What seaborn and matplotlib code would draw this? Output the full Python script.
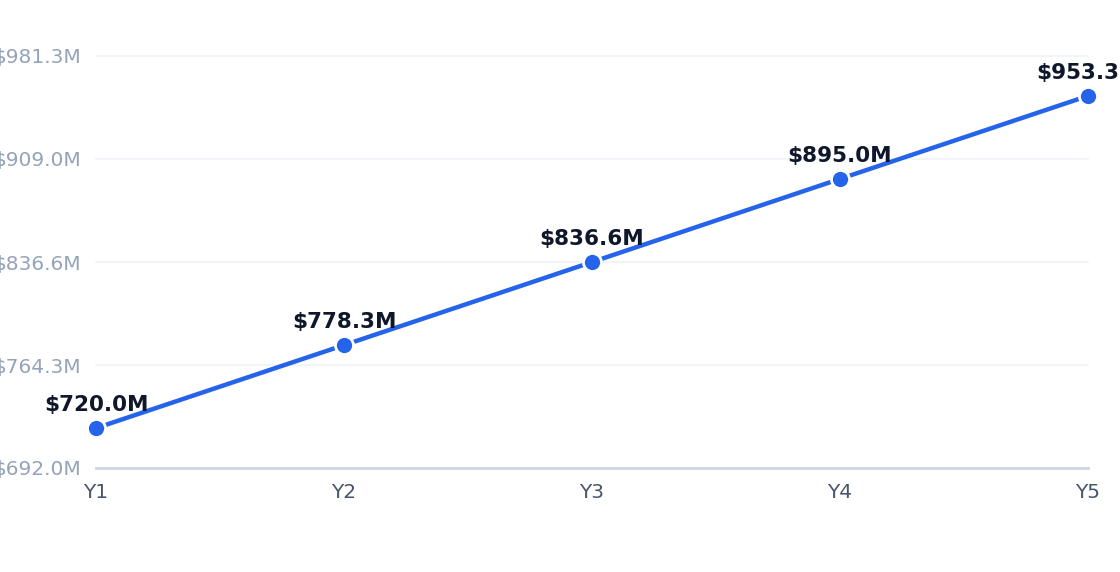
import matplotlib
matplotlib.use("Agg")
import matplotlib.pyplot as plt
import seaborn as sns
import pandas as pd

# chart data
years = ["Y1", "Y2", "Y3", "Y4", "Y5"]
revenue = [720.0, 778.3, 836.6, 895.0, 953.3]
y_ticks = [692.0, 764.3, 836.6, 909.0, 981.3]

LINE = "#2563EB"
LABEL = "#0F172A"

sns.set_theme(style="white")
plt.rcParams["font.family"] = ["DejaVu Sans"]

df = pd.DataFrame({"year": years, "revenue": revenue})

fig = plt.figure(figsize=(11.2, 5.72), dpi=100)
ax = fig.add_axes([96 / 1120, 1 - 468 / 572, 992 / 1120, 412 / 572])

sns.lineplot(data=df, x="year", y="revenue", ax=ax, sort=False,
             color=LINE, linewidth=3.2, marker="o", markersize=13,
             markeredgecolor="white", markeredgewidth=2, zorder=3)
for line in ax.lines:
    line.set_clip_on(False)

# value labels above each point
for i, v in enumerate(revenue):
    ax.annotate(f"${v:.1f}M", (i, v), xytext=(0, 9.5), textcoords="offset points",
                ha="center", va="bottom", fontsize=15.5, fontweight="bold",
                color=LABEL, annotation_clip=False, zorder=4)

ax.set_xlim(0, len(years) - 1)
ax.set_ylim(y_ticks[0], y_ticks[-1])
ax.set_yticks(y_ticks)
ax.set_yticklabels([f"${t:.1f}M" for t in y_ticks])
ax.grid(axis="y", color="#F1F5F9", linewidth=1.5)
for gl in ax.yaxis.get_gridlines():
    gl.set_clip_on(False)
ax.set_axisbelow(True)

for side in ["top", "right", "left"]:
    ax.spines[side].set_visible(False)
ax.spines["bottom"].set_color("#CBD5E1")
ax.spines["bottom"].set_linewidth(2)

ax.tick_params(axis="y", length=0, pad=11, labelsize=14.5, labelcolor="#94A3B8")
ax.tick_params(axis="x", length=0, pad=11, labelsize=14.5, labelcolor="#475569")
ax.set_xlabel("")
ax.set_ylabel("")

fig.savefig("out.png", dpi=100)
